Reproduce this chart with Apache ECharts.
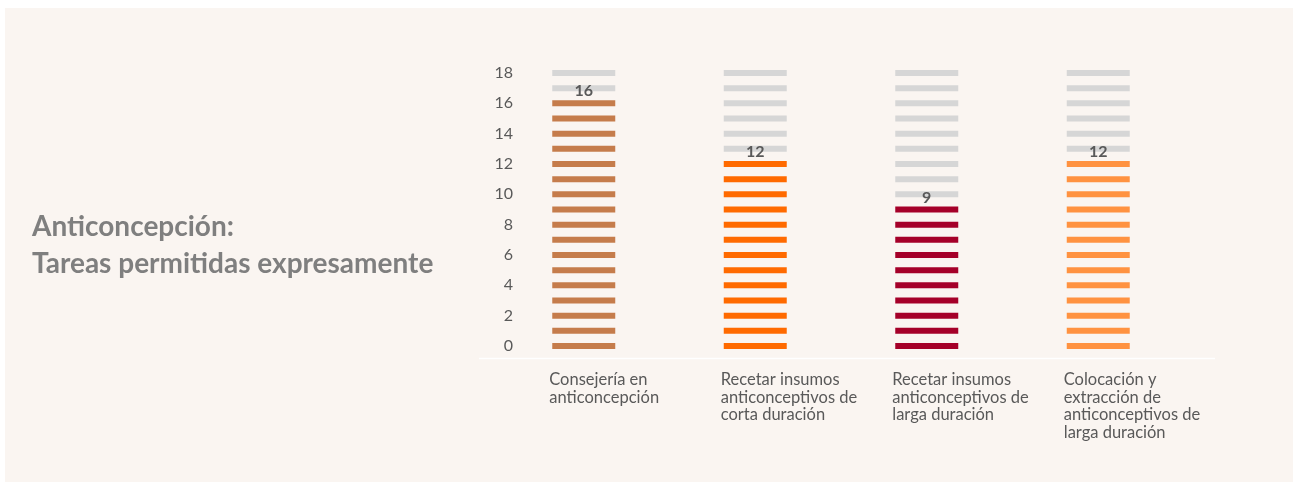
<!DOCTYPE html>
<html>
<head>
<meta charset="utf-8">
<script src="https://cdn.jsdelivr.net/npm/echarts@6/dist/echarts.min.js"></script>
<style>
  html, body { margin: 0; padding: 0; background: #ffffff; }
  #panel { position: absolute; left: 5px; top: 8px; right: 0; bottom: 0; background: #faf5f1; }
  #chart { width: 1293px; height: 482px; position: absolute; left: 0; top: 0; }
</style>
</head>
<body>
<div id="panel"></div>
<div id="chart"></div>
<script>
// datos
var categorias = [
    'Consejería en\nanticoncepción',
    'Recetar insumos\nanticonceptivos de\ncorta duración',
    'Recetar insumos\nanticonceptivos de\nlarga duración',
    'Colocación y\nextracción de\nanticonceptivos de\nlarga duración'
];
var valores = [16, 12, 9, 12];
var colores = ['#c57c4b', '#ff6a00', '#a50029', '#ff9240'];
var maximo = 18;
var ticksY = [0, 2, 4, 6, 8, 10, 12, 14, 16, 18];

var textoGris = '#595959';
var fuente = 'Lato';

// cada unidad es un segmento
var llenos = [], vacios = [];
for (var c = 0; c < valores.length; c++) {
    for (var i = 0; i <= maximo; i++) {
        if (i <= valores[c]) {
            llenos.push({
                value: [c, i],
                itemStyle: { color: colores[c] },
                label: { show: i === valores[c] }
            });
        } else {
            vacios.push([c, i]);
        }
    }
}

var chart = echarts.init(document.getElementById('chart'));

var option = {
    backgroundColor: 'transparent',
    textStyle: { fontFamily: fuente },
    animation: false,
    title: {
        text: 'Anticoncepción:\nTareas permitidas expresamente',
        left: 27,
        top: 203,
        textStyle: {
            color: '#7f7f7f',
            fontSize: 28,
            fontWeight: 'bold',
            fontFamily: fuente,
            lineHeight: 37
        }
    },
    grid: [
        { left: 498, right: 109, top: 73, bottom: 136 },
        // solo para las etiquetas de categoría
        { left: 463.5, right: 143.5, top: 73, bottom: 136 }
    ],
    xAxis: [{
        type: 'category',
        gridIndex: 0,
        data: categorias,
        axisLine: { show: false },
        axisTick: { show: false },
        axisLabel: { show: false }
    }, {
        type: 'category',
        gridIndex: 1,
        data: categorias,
        axisLine: { show: false },
        axisTick: { show: false },
        axisLabel: {
            interval: 0,
            hideOverlap: false,
            align: 'left',
            verticalAlign: 'top',
            margin: 25,
            color: textoGris,
            fontSize: 16.5,
            lineHeight: 17.5,
            fontFamily: fuente
        }
    }],
    yAxis: [{
        type: 'value',
        gridIndex: 0,
        min: 0,
        max: maximo,
        interval: 2,
        splitLine: { show: false },
        axisLine: { show: false },
        axisTick: { show: false },
        axisLabel: {
            margin: -15,
            color: textoGris,
            fontSize: 16,
            fontFamily: fuente
        }
    }, {
        type: 'value',
        gridIndex: 1,
        min: 0,
        max: maximo,
        show: false
    }],
    graphic: [{
        type: 'line',
        shape: { x1: 479, y1: 358.5, x2: 1215, y2: 358.5 },
        style: { stroke: '#ffffff', lineWidth: 1.5 },
        silent: true
    }],
    series: [{
        type: 'scatter',
        xAxisIndex: 0,
        yAxisIndex: 0,
        symbol: 'rect',
        symbolSize: [63, 6],
        itemStyle: { color: '#d6d6d6', opacity: 1 },
        data: vacios,
        z: 2
    }, {
        type: 'scatter',
        xAxisIndex: 0,
        yAxisIndex: 0,
        symbol: 'rect',
        symbolSize: [63, 6],
        itemStyle: { opacity: 1 },
        data: llenos,
        z: 3,
        label: {
            position: 'top',
            distance: 1,
            color: textoGris,
            fontSize: 16,
            fontWeight: 'bold',
            fontFamily: fuente,
            formatter: function (p) { return p.value[1]; }
        }
    }]
};

chart.setOption(option);
</script>
</body>
</html>
